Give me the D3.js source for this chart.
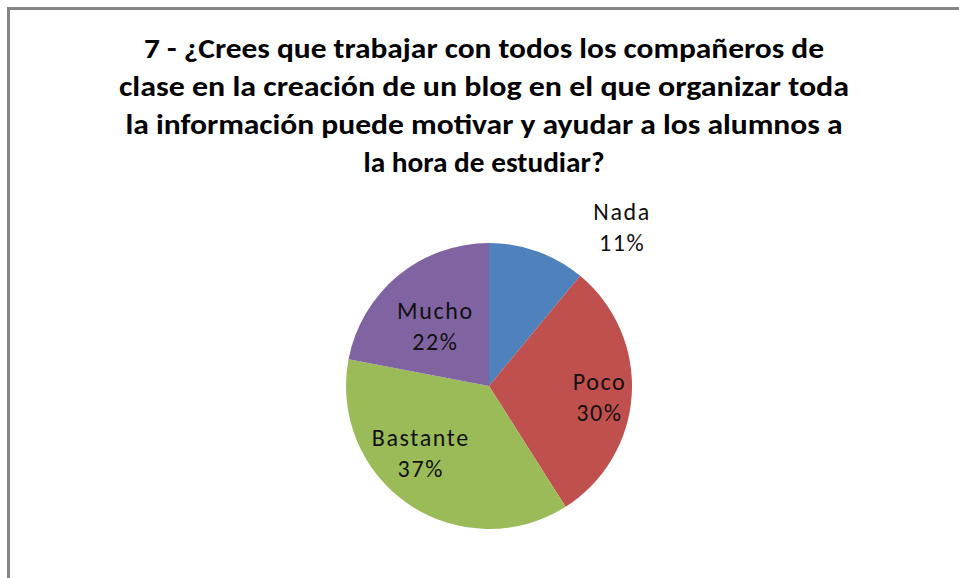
<!DOCTYPE html>
<html>
<head>
<meta charset="utf-8">
<script src="https://cdn.jsdelivr.net/npm/d3@7"></script>
<style>
  body { margin: 0; background: #fff; }
  text { font-family: Carlito, Calibri, Lato, "Open Sans", sans-serif; }
</style>
</head>
<body>
<div id="chart"></div>
<script>
// Chart data
let categories = ["Nada", "Poco", "Bastante", "Mucho"];
let percents = [11, 30, 37, 22];
let colors = ["#4F81BD", "#C0504D", "#9BBB59", "#8064A2"];
let titleLines = [
    "7 - ¿Crees que trabajar con todos los compañeros de",
    "clase en la creación de un blog en el que organizar toda",
    "la información puede motivar y ayudar a los alumnos a",
    "la hora de estudiar?"
];

// Layout
let width = 959, height = 578;
let cx = 489, cy = 386, radius = 143;
// label placement per slice: [angle in degrees from 12 o'clock, distance as fraction of radius]
let labelPlace = [[39.9, 1.44], [96.3, 0.77], [225.4, 0.68], [317, 0.56]];
let titleWidths = [680, 730, 717, 241];

let svg = d3.select("#chart").append("svg")
    .attr("width", width)
    .attr("height", height);

// border (only top and left visible in the picture)
svg.append("path")
    .attr("d", "M8.5," + height + "V8.5H" + width)
    .attr("fill", "none")
    .attr("stroke", "#868686")
    .attr("stroke-width", 3);

// title
svg.selectAll(".title").data(titleLines).enter().append("text")
    .attr("class", "title")
    .attr("x", 484)
    .attr("y", (d, i) => 58 + i * 38)
    .attr("text-anchor", "middle")
    .attr("textLength", (d, i) => titleWidths[i])
    .attr("lengthAdjust", "spacingAndGlyphs")
    .style("font-size", "28px")
    .style("font-weight", "bold")
    .style("fill", "#000")
    .text(d => d);

let data = categories.map((c, i) => ({name: c, value: percents[i], color: colors[i]}));

let pie = d3.pie().sort(null).value(d => d.value);
let arc = d3.arc().innerRadius(0).outerRadius(radius);

let g = svg.append("g").attr("transform", "translate(" + cx + "," + cy + ")");

g.selectAll("path.slice").data(pie(data)).enter().append("path")
    .attr("class", "slice")
    .attr("d", arc)
    .attr("fill", d => d.data.color)
    .attr("stroke", "none");

let labels = g.selectAll("g.label").data(pie(data)).enter().append("g")
    .attr("class", "label")
    .attr("transform", (d, i) => {
        let a = labelPlace[i][0] * Math.PI / 180, r = labelPlace[i][1] * radius;
        return "translate(" + (r * Math.sin(a)) + "," + (-r * Math.cos(a)) + ")";
    });

labels.append("text")
    .attr("x", 1)
    .attr("y", -8)
    .attr("text-anchor", "middle")
    .style("font-size", "24px")
    .style("letter-spacing", "1.6px")
    .style("fill", "#111")
    .text(d => d.data.name);

labels.append("text")
    .attr("x", 1)
    .attr("y", 23)
    .attr("text-anchor", "middle")
    .style("font-size", "24px")
    .style("letter-spacing", "1.6px")
    .style("fill", "#111")
    .text(d => d.data.value + "%");
</script>
</body>
</html>
